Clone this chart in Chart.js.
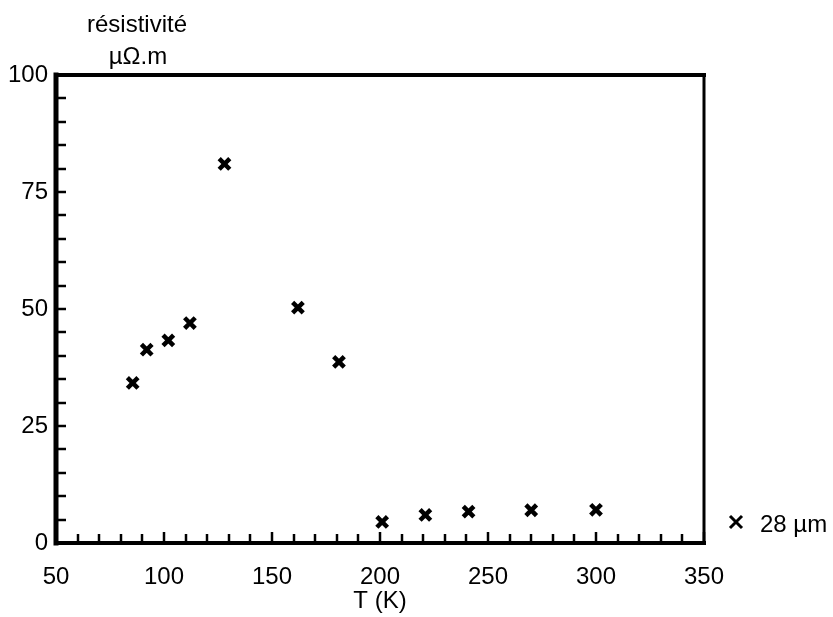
<!DOCTYPE html>
<html><head><meta charset="utf-8">
<script src="https://cdn.jsdelivr.net/npm/chart.js@4/dist/chart.umd.min.js"></script>
<style>html,body{margin:0;padding:0;background:#fff}#wrap{width:833px;height:617px}</style>
</head><body><div id="wrap"><canvas id="c" width="833" height="617"></canvas></div>
<script>
const temperatures = [85.5, 92, 102, 112, 128, 162, 181, 201, 221, 241, 270, 300];
const resistivity = [34.2, 41.3, 43.3, 47.0, 81.0, 50.3, 38.7, 4.5, 6.0, 6.7, 7.0, 7.1];
const seriesLabel = '28 µm';
const yTitleLines = ['résistivité', 'µΩ.m'];
const xTitle = 'T (K)';
const xRange = [50, 350];
const yRange = [0, 100];
const xLabelEvery = 50, xTickEvery = 10;
const yLabelEvery = 25, yTickEvery = 5;

const FONT = 'Liberation Sans, Arial, Helvetica, sans-serif';
const FS = 24;

const framePlugin = {
  id: 'frameAndExtras',
  afterDraw(chart) {
    const ctx = chart.ctx;
    const a = chart.chartArea;
    const xs = chart.scales.x, ys = chart.scales.y;
    ctx.save();
    ctx.strokeStyle = '#000';
    ctx.lineCap = 'butt';
    // inward ticks
    ctx.lineWidth = 2.5;
    xs.ticks.forEach(t => {
      const px = Math.round(xs.getPixelForValue(t.value));
      const len = (t.value % xLabelEvery === 0) ? 11 : 9;
      ctx.beginPath(); ctx.moveTo(px, a.bottom); ctx.lineTo(px, a.bottom - len); ctx.stroke();
    });
    ys.ticks.forEach(t => {
      const py = Math.round(ys.getPixelForValue(t.value));
      ctx.beginPath(); ctx.moveTo(a.left, py); ctx.lineTo(a.left + 10, py); ctx.stroke();
    });
    // frame
    ctx.lineCap = 'square';
    ctx.lineWidth = 5;
    ctx.beginPath(); ctx.moveTo(a.left, a.top); ctx.lineTo(a.left, a.bottom); ctx.stroke();
    ctx.lineWidth = 4;
    ctx.beginPath(); ctx.moveTo(a.left, a.bottom); ctx.lineTo(a.right, a.bottom); ctx.stroke();
    ctx.beginPath(); ctx.moveTo(a.left, a.top); ctx.lineTo(a.right, a.top); ctx.stroke();
    ctx.lineWidth = 3;
    ctx.beginPath(); ctx.moveTo(a.right, a.top); ctx.lineTo(a.right, a.bottom); ctx.stroke();
    // y title
    ctx.fillStyle = '#000';
    ctx.font = FS + 'px ' + FONT;
    ctx.textAlign = 'center';
    ctx.textBaseline = 'alphabetic';
    ctx.fillText(yTitleLines[0], 137, 32);
    ctx.fillText(yTitleLines[1], 138, 64);
    // legend
    const ds = chart.data.datasets[0];
    ctx.strokeStyle = '#000';
    Chart.helpers.drawPoint(ctx, {pointStyle: 'crossRot', radius: 7, borderWidth: 4.5, rotation: 0}, 736, 522);
    ctx.textAlign = 'left';
    ctx.fillText(ds.label, 760, 532);
    ctx.restore();
  }
};

new Chart(document.getElementById('c'), {
  type: 'scatter',
  data: {
    datasets: [{
      label: seriesLabel,
      data: temperatures.map((t, i) => ({x: t, y: resistivity[i]})),
      pointStyle: 'crossRot',
      pointRadius: 7.5,
      pointHoverRadius: 7.5,
      borderWidth: 4.5,
      borderColor: '#000',
      backgroundColor: '#000',
      clip: false
    }]
  },
  options: {
    responsive: false,
    animation: false,
    devicePixelRatio: 1,
    layout: {padding: {top: 75, right: 129, left: 0, bottom: 0}},
    plugins: {legend: {display: false}, tooltip: {enabled: false}, title: {display: false}},
    scales: {
      x: {
        type: 'linear', min: xRange[0], max: xRange[1],
        grid: {display: false, drawTicks: false}, border: {display: false},
        afterFit(s) { s.height = 74; },
        ticks: {
          stepSize: xTickEvery, autoSkip: false, maxRotation: 0, padding: 20,
          color: '#000', font: {family: FONT, size: FS},
          callback: v => (v % xLabelEvery === 0 ? String(v) : '')
        },
        title: {display: true, text: xTitle, color: '#000', font: {family: FONT, size: FS}, padding: {top: 0, bottom: 1}}
      },
      y: {
        type: 'linear', min: yRange[0], max: yRange[1],
        grid: {display: false, drawTicks: false}, border: {display: false},
        afterFit(s) { s.width = 56; },
        ticks: {
          stepSize: yTickEvery, autoSkip: false, padding: 8,
          color: '#000', font: {family: FONT, size: FS},
          callback: v => (v % yLabelEvery === 0 ? String(v) : '')
        }
      }
    }
  },
  plugins: [framePlugin]
});
</script></body></html>
